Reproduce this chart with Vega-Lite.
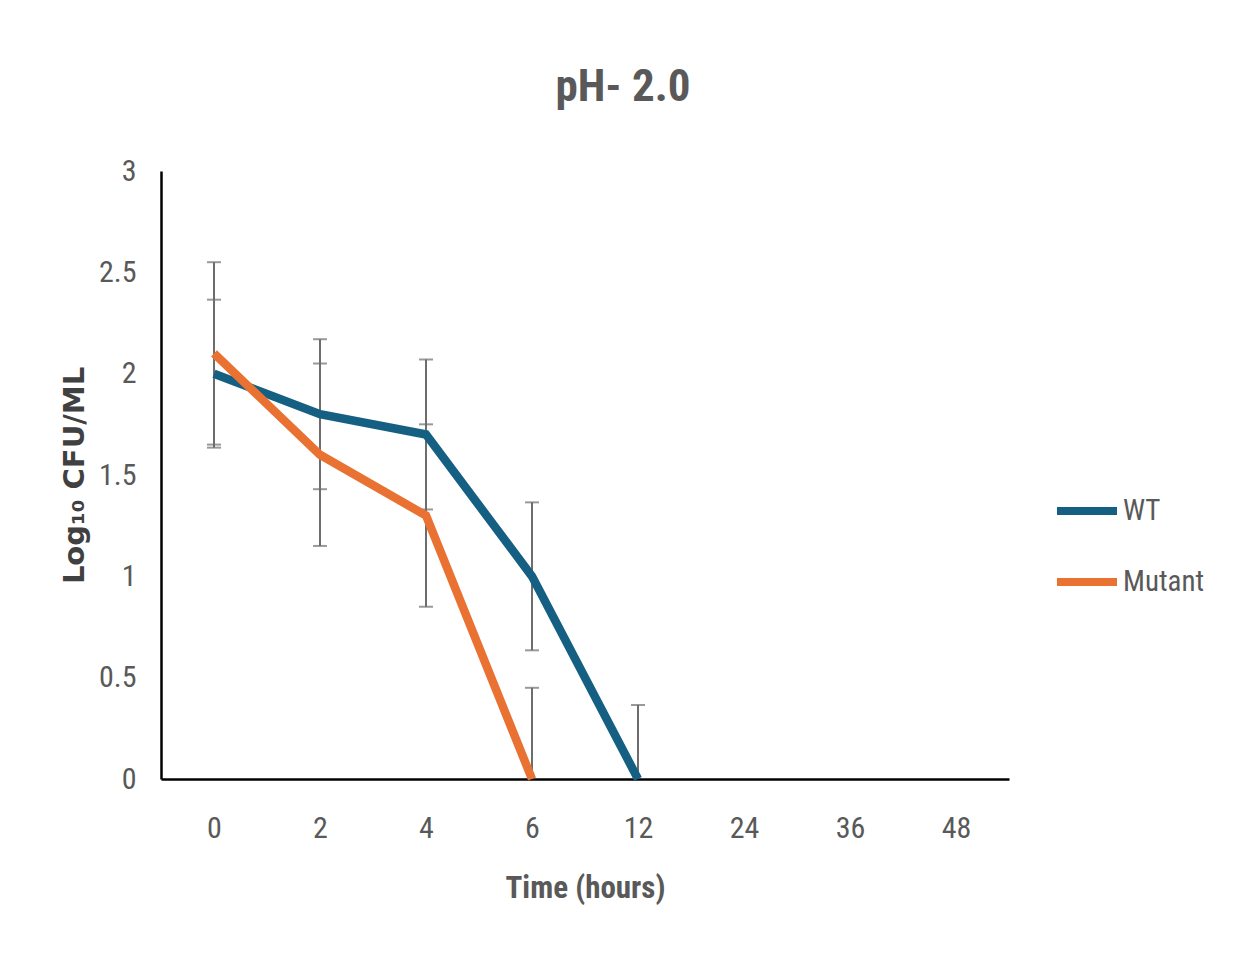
{
  "$schema": "https://vega.github.io/schema/vega-lite/v6.json",
  "autosize": {"type": "none"},
  "width": 848,
  "height": 608,
  "padding": {"left": 161, "top": 171, "right": 226, "bottom": 185},
  "background": "white",
  "config": {"view": {"stroke": null}},
  "title": {
    "text": "pH- 2.0",
    "anchor": "middle",
    "frame": "group",
    "dx": 38,
    "offset": 46,
    "font": "Roboto Condensed, Roboto",
    "fontSize": 45,
    "fontWeight": "bold",
    "color": "#595959"
  },
  "datasets": {
    "pts": [
      {"series": "WT", "time": "0", "mean": 2.0, "lo": 1.635, "hi": 2.365},
      {"series": "WT", "time": "2", "mean": 1.8, "lo": 1.43, "hi": 2.17},
      {"series": "WT", "time": "4", "mean": 1.7, "lo": 1.33, "hi": 2.07},
      {"series": "WT", "time": "6", "mean": 1.0, "lo": 0.635, "hi": 1.365},
      {"series": "WT", "time": "12", "mean": 0.0, "lo": -0.365, "hi": 0.365},
      {"series": "Mutant", "time": "0", "mean": 2.1, "lo": 1.65, "hi": 2.55},
      {"series": "Mutant", "time": "2", "mean": 1.6, "lo": 1.15, "hi": 2.05},
      {"series": "Mutant", "time": "4", "mean": 1.3, "lo": 0.85, "hi": 1.75},
      {"series": "Mutant", "time": "6", "mean": 0.0, "lo": -0.45, "hi": 0.45}
    ]
  },
  "data": {"name": "pts"},
  "encoding": {
    "x": {
      "field": "time",
      "type": "ordinal",
      "sort": null,
      "scale": {"type": "point", "padding": 0.5, "domain": ["0", "2", "4", "6", "12", "24", "36", "48"]},
      "axis": {
        "title": "Time (hours)",
        "labelAngle": 0,
        "ticks": false,
        "tickSize": 0,
        "domainColor": "#000000",
        "domainWidth": 2.5,
        "labelPadding": 34,
        "labelFont": "Roboto Condensed, Roboto",
        "labelFontSize": 30,
        "labelColor": "#595959",
        "titleFont": "Roboto Condensed, Roboto",
        "titleFontSize": 31,
        "titleFontWeight": "bold",
        "titleColor": "#595959",
        "titlePadding": 30,
        "grid": false
      }
    }
  },
  "layer": [
    {
      "mark": {"type": "rule", "color": "#6d6d6d", "strokeWidth": 2, "clip": true},
      "encoding": {
        "y": {"field": "lo", "type": "quantitative"},
        "y2": {"field": "hi"}
      }
    },
    {
      "mark": {"type": "tick", "color": "#6d6d6d", "thickness": 2, "size": 14, "clip": true},
      "encoding": {"y": {"field": "lo", "type": "quantitative"}}
    },
    {
      "mark": {"type": "tick", "color": "#6d6d6d", "thickness": 2, "size": 14, "clip": true},
      "encoding": {"y": {"field": "hi", "type": "quantitative"}}
    },
    {
      "mark": {"type": "line", "strokeWidth": 8.5, "strokeJoin": "miter", "strokeCap": "butt"},
      "encoding": {
        "y": {
          "field": "mean",
          "type": "quantitative",
          "scale": {"domain": [0, 3], "nice": false, "zero": true},
          "axis": {
            "title": "Log₁₀ CFU/ML",
            "values": [0, 0.5, 1, 1.5, 2, 2.5, 3],
            "format": "~g",
            "ticks": false,
            "tickSize": 0,
            "grid": false,
            "domainColor": "#000000",
            "domainWidth": 2.5,
            "labelPadding": 25,
            "labelFont": "Roboto Condensed, Roboto",
            "labelFontSize": 30,
            "labelColor": "#595959",
            "titleFont": "DejaVu Sans",
            "titleFontSize": 29,
            "titleFontWeight": "bold",
            "titleColor": "#404040",
            "titlePadding": 9
          }
        },
        "color": {
          "field": "series",
          "type": "nominal",
          "sort": ["WT", "Mutant"],
          "scale": {"domain": ["WT", "Mutant"], "range": ["#156082", "#E97132"]},
          "legend": {
            "title": null,
            "orient": "none",
            "legendX": 892,
            "legendY": 306,
            "padding": 0,
            "symbolType": "stroke",
            "symbolSize": 3600,
            "symbolStrokeWidth": 8,
            "rowPadding": 21,
            "labelOffset": 2,
            "labelFont": "Roboto Condensed, Roboto",
            "labelFontSize": 29,
            "labelColor": "#595959"
          }
        },
        "detail": {"field": "series"}
      }
    }
  ]
}
